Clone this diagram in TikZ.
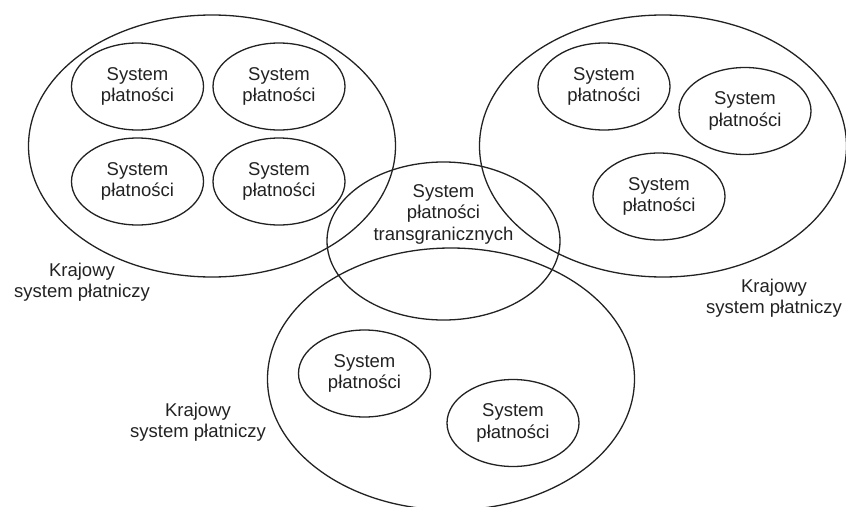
\documentclass[tikz,border=0pt]{standalone}
\usepackage{fontspec}
\setmainfont{Liberation Sans}
\usetikzlibrary{shapes.geometric}
\definecolor{ink}{HTML}{222222}
\begin{document}
\begin{tikzpicture}[x=1pt,y=-1pt,
  every node/.style={text=ink, font=\fontsize{18.5}{21.5}\selectfont},
  bigell/.style={draw=ink, ellipse, line width=1.3pt, minimum width=367pt, minimum height=262pt, inner sep=0pt},
  midell/.style={draw=ink, ellipse, line width=1.3pt, minimum width=233pt, minimum height=158pt, inner sep=0pt},
  smallell/.style={draw=ink, ellipse, line width=1.3pt, minimum width=132pt, minimum height=87pt, inner sep=0pt, align=center},
  lbl/.style={align=center, inner sep=0pt}
]
\useasboundingbox (0,0) rectangle (846,506);
% large ellipses
\node[bigell] (left) at (212,146) {};
\node[bigell] (right) at (663,146) {};
\node[bigell] (bottom) at (451,379) {};
% middle
\node[midell, align=center] (mid) at (443.5,241) {};
\node[lbl] (midtxt) at (443.5,214) {System\\płatności\\transgranicznych};
% left group
\node[smallell] (l1) at (137.5,86.5) {System\\płatności};
\node[smallell] (l2) at (279,86.5) {System\\płatności};
\node[smallell] (l3) at (137.5,181.5) {System\\płatności};
\node[smallell] (l4) at (279,181.5) {System\\płatności};
% right group
\node[smallell] (r1) at (604,86.5) {System\\płatności};
\node[smallell] (r2) at (745,111) {System\\płatności};
\node[smallell] (r3) at (659,196.5) {System\\płatności};
% bottom group
\node[smallell] (b1) at (364.5,373.5) {System\\płatności};
\node[smallell] (b2) at (513,423) {System\\płatności};
% labels
\node[lbl] (lab1) at (82,282) {Krajowy\\system płatniczy};
\node[lbl] (lab2) at (198,422) {Krajowy\\system płatniczy};
\node[lbl] (lab3) at (774,298) {Krajowy\\system płatniczy};
\end{tikzpicture}
\end{document}
